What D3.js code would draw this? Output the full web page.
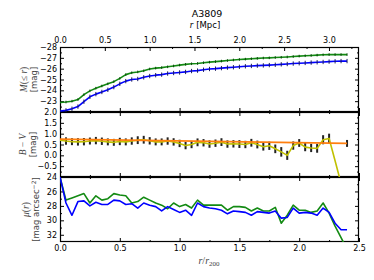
<!doctype html>
<html>
<head>
<meta charset="utf-8">
<title>A3809</title>
<script src="https://d3js.org/d3.v7.min.js"></script>
<style>
  body { margin: 0; background: #fff; }
  text { font-family: "DejaVu Sans", sans-serif; fill: #000; }
  .math { font-family: "Liberation Serif", serif; font-style: italic; }
  .lbl { fill: #444; }
</style>
</head>
<body>
<script>
var width = 374, height = 280;
var r200 = 1.334; // Mpc per r200

// radial bins, r / r200
var rBins = [0.00,0.05,0.10,0.15,0.20,0.25,0.30,0.35,0.40,0.45,0.50,0.55,0.60,0.65,0.70,0.75,0.80,0.85,0.90,0.95,
             1.00,1.05,1.10,1.15,1.20,1.25,1.30,1.35,1.40,1.45,1.50,1.55,1.60,1.65,1.70,1.75,1.80,1.85,1.90,1.95,
             2.00,2.05,2.10,2.15,2.20,2.25,2.30,2.35,2.40];

// cumulative magnitude M(<=r)
var magGreen = [-22.88,-22.92,-23.0,-23.15,-23.6,-23.95,-24.2,-24.4,-24.6,-24.8,-25.1,-25.45,-25.62,-25.7,-25.8,-25.97,-26.05,-26.1,-26.17,-26.25,
                -26.33,-26.4,-26.45,-26.48,-26.55,-26.6,-26.65,-26.7,-26.75,-26.8,-26.85,-26.88,-26.92,-26.95,-26.98,-27.0,-27.03,-27.05,-27.08,-27.12,
                -27.16,-27.19,-27.22,-27.25,-27.28,-27.3,-27.3,-27.3,-27.3];
var magBlue = [-22.08,-22.15,-22.3,-22.5,-22.95,-23.4,-23.65,-23.85,-24.05,-24.3,-24.6,-24.85,-25.0,-25.05,-25.2,-25.32,-25.4,-25.45,-25.55,-25.6,
               -25.65,-25.7,-25.78,-25.82,-25.9,-25.97,-26.0,-26.05,-26.1,-26.13,-26.17,-26.22,-26.25,-26.28,-26.3,-26.33,-26.36,-26.4,-26.43,-26.47,
               -26.5,-26.53,-26.56,-26.59,-26.62,-26.65,-26.68,-26.7,-26.7];

// B - V colour
var bvLine = [0.70,0.66,0.63,0.62,0.63,0.66,0.68,0.65,0.62,0.60,0.64,0.62,0.66,0.70,0.72,0.67,0.62,0.62,0.66,0.62,
              0.55,0.45,0.50,0.60,0.58,0.52,0.56,0.61,0.52,0.53,0.52,0.50,0.58,0.50,0.40,0.44,0.30,0.16,0.00,0.45,
              0.57,0.38,0.34,0.32,0.72,0.78,-0.25,-1.3,-2.3];
var bvMid = [null,0.66,0.63,0.62,0.63,0.66,0.68,0.65,0.62,0.60,0.64,0.62,0.66,0.70,0.72,0.67,0.62,0.62,0.66,0.62,
             0.55,0.45,0.50,0.60,0.58,0.52,0.56,0.61,0.52,0.53,0.52,0.50,0.58,0.50,0.40,0.44,0.30,0.16,0.00,0.45,
             0.57,0.38,0.34,0.32,0.72,0.78,null,null,0.55];
var bvErr = [null,0.17,0.16,0.17,0.17,0.16,0.17,0.17,0.16,0.16,0.17,0.16,0.17,0.18,0.18,0.17,0.16,0.16,0.17,0.17,
             0.17,0.17,0.17,0.18,0.17,0.17,0.17,0.18,0.17,0.17,0.18,0.17,0.18,0.18,0.18,0.19,0.20,0.22,0.21,0.19,
             0.18,0.19,0.19,0.20,0.21,0.22,null,null,0.16];
var bvFitR = [0.0, 2.4];
var bvFit = [0.75, 0.55];

// surface brightness mu(r)
var muGreen = [24.0,27.2,26.9,26.6,26.3,27.6,26.6,27.2,27.0,26.3,26.5,26.6,27.6,27.4,26.8,27.2,27.6,27.9,28.4,27.6,
               28.1,27.8,28.3,27.2,27.9,27.9,27.9,27.9,28.6,28.1,28.1,28.2,28.7,28.3,28.7,28.7,28.2,30.4,29.3,27.9,
               28.6,28.6,28.9,28.7,27.6,29.0,30.8,32.4,34.0];
var muBlue = [24.0,27.6,29.3,27.4,27.3,28.0,27.5,27.8,27.8,27.2,27.3,27.8,27.7,28.3,27.6,27.9,28.1,28.7,28.1,28.5,
              28.9,28.6,29.3,27.6,28.1,28.3,28.4,28.6,29.1,28.7,28.8,28.9,29.3,28.8,28.9,29.0,28.7,29.7,29.6,28.3,
              29.0,28.9,29.0,29.3,28.3,28.9,30.4,31.3,31.3];

// tick labels
var xTicks = [0, 0.5, 1.0, 1.5, 2.0, 2.5];
var xMinor = [0.25, 0.75, 1.25, 1.75, 2.25];
var mpcTicks = [0, 0.5, 1.0, 1.5, 2.0, 2.5, 3.0];
var mpcMinor = [0.25, 0.75, 1.25, 1.75, 2.25, 2.75, 3.25];
var magTicks = [-28, -27, -26, -25, -24, -23];
var magMinor = [-27.5, -26.5, -25.5, -24.5, -23.5, -22.5];
var bvTicks = [2.0, 1.5, 1.0, 0.5, 0.0, -0.5];
var bvMinor = [1.75, 1.25, 0.75, 0.25, -0.25, -0.75];
var muTicks = [24, 26, 28, 30, 32];
var muMinor = [25, 27, 29, 31, 33];

var left = 60, right = 359;
var x = d3.scaleLinear().domain([0, 2.5]).range([left, right]);
var xMpc = d3.scaleLinear().domain([0, 2.5 * r200]).range([left, right]);

var yMag = d3.scaleLinear().domain([-28, -22]).range([47, 112]);
var yBV = d3.scaleLinear().domain([2.0, -1.0]).range([112, 177]);
var yMu = d3.scaleLinear().domain([24, 33]).range([177, 242]);

var svg = d3.select("body").append("svg")
    .attr("width", width).attr("height", height)
    .style("background", "#fff");

var defs = svg.append("defs");

function panel(id, y, ticks, minor, fmt) {
  var top = y.range()[0], bot = y.range()[1];
  defs.append("clipPath").attr("id", id)
    .append("rect").attr("x", left).attr("y", top)
    .attr("width", right - left).attr("height", bot - top);

  var inside = minor.filter(function(v){ return y(v) > top && y(v) < bot; });
  var g = svg.append("g");
  g.append("g").attr("transform", "translate(" + left + ",0)")
    .call(d3.axisLeft(y).tickValues(ticks).tickSize(-4).tickPadding(3).tickFormat(fmt));
  g.append("g").attr("transform", "translate(" + left + ",0)")
    .call(d3.axisLeft(y).tickValues(inside).tickSize(-2).tickFormat(""));
  g.append("g").attr("transform", "translate(" + right + ",0)")
    .call(d3.axisRight(y).tickValues(ticks).tickSize(-4).tickFormat(""));
  g.append("g").attr("transform", "translate(" + right + ",0)")
    .call(d3.axisRight(y).tickValues(inside).tickSize(-2).tickFormat(""));
  // x ticks on the bottom and top edges
  g.append("g").attr("transform", "translate(0," + bot + ")")
    .call(d3.axisBottom(x).tickValues(xTicks).tickSize(-4).tickFormat(""));
  g.append("g").attr("transform", "translate(0," + bot + ")")
    .call(d3.axisBottom(x).tickValues(xMinor).tickSize(-2).tickFormat(""));
  if (id !== "c0") {
    g.append("g").attr("transform", "translate(0," + top + ")")
      .call(d3.axisTop(x).tickValues(xTicks).tickSize(-4).tickFormat(""));
    g.append("g").attr("transform", "translate(0," + top + ")")
      .call(d3.axisTop(x).tickValues(xMinor).tickSize(-2).tickFormat(""));
  }
  g.selectAll(".domain").remove();
  g.selectAll(".tick line").attr("stroke", "#000").attr("stroke-width", 1);
  g.selectAll(".tick text").style("font-size", "8px").style("font-family", "DejaVu Sans").attr("fill", "#000");

  g.append("rect").attr("x", left + 0.5).attr("y", top + 0.5)
    .attr("width", right - left - 1).attr("height", bot - top - 1)
    .attr("fill", "none").attr("stroke", "#000").attr("stroke-width", 1.2);

  return svg.append("g").attr("clip-path", "url(#" + id + ")");
}

function series(vals) {
  return rBins.map(function(r, i){ return {r: r, v: vals[i]}; });
}

function drawLine(g, y, vals, color, w) {
  var line = d3.line()
    .defined(function(d){ return d.v !== null; })
    .x(function(d){ return x(d.r); })
    .y(function(d){ return y(d.v); });
  g.append("path").datum(series(vals))
    .attr("d", line).attr("fill", "none")
    .attr("stroke", color).attr("stroke-width", w).attr("stroke-linejoin", "round");
}

// ---- top panel: M(<=r)
var g0 = panel("c0", yMag, magTicks, magMinor, d3.format("d"));
drawLine(g0, yMag, magGreen, "#138a13", 1.6);
drawLine(g0, yMag, magBlue, "#0000ff", 1.6);
g0.selectAll(".eg").data(series(magGreen)).enter().append("line")
  .attr("x1", function(d){ return x(d.r); }).attr("x2", function(d){ return x(d.r); })
  .attr("y1", function(d){ return yMag(d.v - 0.12); }).attr("y2", function(d){ return yMag(d.v + 0.12); })
  .attr("stroke", "#0a4a0a").attr("stroke-width", 1);
g0.selectAll(".eb").data(series(magBlue)).enter().append("line")
  .attr("x1", function(d){ return x(d.r); }).attr("x2", function(d){ return x(d.r); })
  .attr("y1", function(d){ return yMag(d.v - 0.2); }).attr("y2", function(d){ return yMag(d.v + 0.2); })
  .attr("stroke", "#1a1a60").attr("stroke-width", 1);

// top Mpc axis
var ga = svg.append("g").attr("transform", "translate(0,47)");
ga.append("g").call(d3.axisTop(xMpc).tickValues(mpcTicks).tickSize(-4).tickPadding(4).tickFormat(d3.format(".1f")));
ga.append("g").call(d3.axisTop(xMpc).tickValues(mpcMinor).tickSize(-2).tickFormat(""));
ga.selectAll(".domain").remove();
ga.selectAll(".tick line").attr("stroke", "#000");
ga.selectAll(".tick text").style("font-size", "8px").style("font-family", "DejaVu Sans").attr("fill", "#000");

// ---- middle panel: B - V
var g1 = panel("c1", yBV, bvTicks, bvMinor, d3.format(".1f"));
g1.selectAll(".err").data(series(bvErr).filter(function(d){ return d.v !== null; })).enter().append("line")
  .attr("x1", function(d){ return x(d.r); }).attr("x2", function(d){ return x(d.r); })
  .attr("y1", function(d){ return yBV(bvMid[rBins.indexOf(d.r)] + d.v); })
  .attr("y2", function(d){ return yBV(bvMid[rBins.indexOf(d.r)] - d.v); })
  .attr("stroke", "#222").attr("stroke-width", 2);
drawLine(g1, yBV, bvLine, "#c0c000", 1.6);
g1.append("path")
  .datum(bvFitR.map(function(r, i){ return {r: r, v: bvFit[i]}; }))
  .attr("d", d3.line().x(function(d){ return x(d.r); }).y(function(d){ return yBV(d.v); }))
  .attr("fill", "none").attr("stroke", "#ff7f0e").attr("stroke-width", 1.6);

// ---- bottom panel: mu(r)
var g2 = panel("c2", yMu, muTicks, muMinor, d3.format("d"));
drawLine(g2, yMu, muGreen, "#138a13", 1.6);
drawLine(g2, yMu, muBlue, "#0000ff", 1.6);

// bottom x axis labels
var gb = svg.append("g").attr("transform", "translate(0,242)");
gb.call(d3.axisBottom(x).tickValues(xTicks).tickSize(0).tickPadding(3).tickFormat(d3.format(".1f")));
gb.selectAll(".domain").remove();
gb.selectAll(".tick text").style("font-size", "8px").style("font-family", "DejaVu Sans").attr("fill", "#000");

// ---- titles and labels
svg.append("text").attr("x", 207).attr("y", 17).attr("text-anchor", "middle")
  .style("font-size", "9.5px").text("A3809");

var tl = svg.append("text").attr("x", 205).attr("y", 28).attr("text-anchor", "middle").style("font-size", "8.5px");
tl.append("tspan").attr("class", "math").style("font-size", "9.5px").text("r");
tl.append("tspan").text(" [Mpc]");

var bl = svg.append("text").attr("class", "lbl").attr("x", 209).attr("y", 264).attr("text-anchor", "middle").style("font-size", "10px");
bl.append("tspan").attr("class", "math").text("r");
bl.append("tspan").attr("class", "math").style("font-style", "normal").text("/");
bl.append("tspan").attr("class", "math").text("r");
bl.append("tspan").attr("class", "math").style("font-style", "normal").style("font-size", "7px").attr("dy", 2).text("200");

function ylabel(cx1, cx2, cy, first, second) {
  var t1 = svg.append("text").attr("class", "lbl")
    .attr("transform", "translate(" + cx1 + "," + cy + ") rotate(-90)")
    .attr("text-anchor", "middle").attr("dominant-baseline", "central").style("font-size", "9.5px");
  first(t1);
  var t2 = svg.append("text").attr("class", "lbl")
    .attr("transform", "translate(" + cx2 + "," + cy + ") rotate(-90)")
    .attr("text-anchor", "middle").attr("dominant-baseline", "central").style("font-size", "8.5px");
  second(t2);
}

ylabel(24, 34, 79.5, function(t){
  t.append("tspan").attr("class", "math").text("M");
  t.append("tspan").attr("class", "math").style("font-style", "normal").text("(≤ ");
  t.append("tspan").attr("class", "math").text("r");
  t.append("tspan").attr("class", "math").style("font-style", "normal").text(")");
}, function(t){ t.text("[mag]"); });

ylabel(23, 33, 144.5, function(t){
  t.append("tspan").attr("class", "math").text("B");
  t.append("tspan").attr("class", "math").style("font-style", "normal").text(" − ");
  t.append("tspan").attr("class", "math").text("V");
}, function(t){ t.text("[mag]"); });

ylabel(26, 36, 209.5, function(t){
  t.append("tspan").attr("class", "math").text("μ");
  t.append("tspan").attr("class", "math").style("font-style", "normal").text("(");
  t.append("tspan").attr("class", "math").text("r");
  t.append("tspan").attr("class", "math").style("font-style", "normal").text(")");
}, function(t){
  t.append("tspan").text("[mag arcsec");
  t.append("tspan").style("font-size", "6px").attr("dy", -3).text("−2");
  t.append("tspan").attr("dy", 3).text("]");
});
</script>
</body>
</html>
